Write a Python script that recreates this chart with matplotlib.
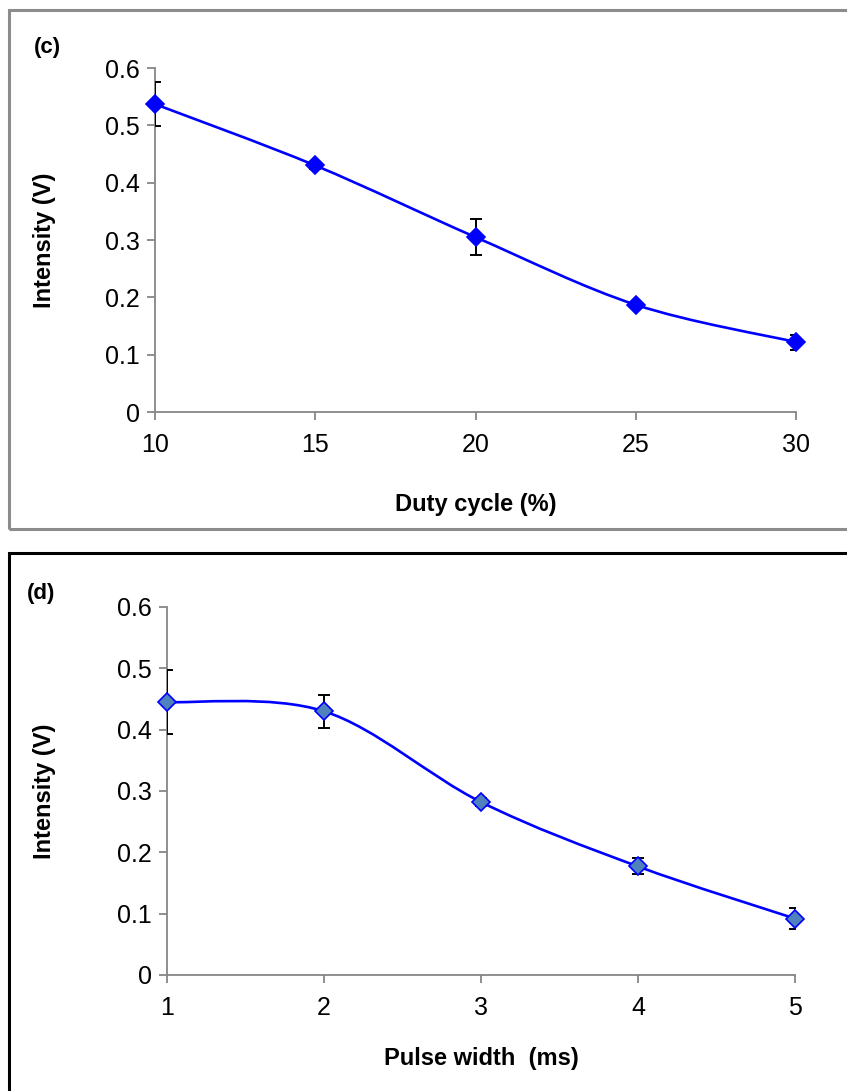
import matplotlib
matplotlib.use("Agg")
import matplotlib.pyplot as plt
from matplotlib.path import Path
from matplotlib.patches import PathPatch, Rectangle
from matplotlib.transforms import blended_transform_factory
import numpy as np

plt.rcParams['font.family'] = ['Liberation Sans', 'DejaVu Sans']

# panel (c)
duty = [10, 15, 20, 25, 30]
duty_int = [0.537, 0.430, 0.305, 0.187, 0.122]
duty_err = [0.038, 0.006, 0.031, 0.004, 0.013]

# panel (d)
pulse = [1, 2, 3, 4, 5]
pulse_int = [0.445, 0.430, 0.282, 0.177, 0.092]
pulse_err = [0.052, 0.027, 0.007, 0.013, 0.017]

W, H = 847, 1091
fig = plt.figure(figsize=(W / 100, H / 100), dpi=100)


def smooth_path(x, y):
    # Excel style smoothed line: cubic bezier through the points
    p = np.column_stack([x, y]).astype(float)
    n = len(p)
    verts = [p[0]]
    codes = [Path.MOVETO]
    for i in range(n - 1):
        prev = p[max(i - 1, 0)]
        nxt = p[min(i + 2, n - 1)]
        c1 = p[i] + (p[i + 1] - prev) / 6
        c2 = p[i + 1] - (nxt - p[i]) / 6
        verts += [c1, c2, p[i + 1]]
        codes += [Path.CURVE4] * 3
    return Path(verts, codes)


def panel(rect, x, y, err, xticks, xlabel, xlab_y, tag, tag_xy, mface):
    ax = fig.add_axes(rect)
    ax.add_patch(PathPatch(smooth_path(x, y), facecolor='none',
                           edgecolor='#0000ff', lw=1.9, zorder=2))
    ax.errorbar(x, y, yerr=err, fmt='none', ecolor='black', elinewidth=1.4,
                capsize=4.5, capthick=1.4, zorder=3)
    ax.plot(x, y, ls='none', marker='D', ms=9.5, mfc=mface, mec='#0000ff',
            mew=1.2, zorder=4, clip_on=False)
    ax.set_xlim(xticks[0], xticks[-1])
    ax.set_ylim(0, 0.6)
    ax.set_xticks(xticks)
    ax.set_yticks([0, 0.1, 0.2, 0.3, 0.4, 0.5, 0.6])
    ax.set_yticklabels(['0', '0.1', '0.2', '0.3', '0.4', '0.5', '0.6'])
    for s in ['top', 'right']:
        ax.spines[s].set_visible(False)
    for s in ['left', 'bottom']:
        ax.spines[s].set_color('#868686')
        ax.spines[s].set_linewidth(1.3)
    ax.tick_params(axis='both', colors='#868686', labelcolor='black',
                   labelsize=18, length=6, width=1.3)
    ax.tick_params(axis='x', pad=9)
    ax.tick_params(axis='y', pad=5)
    ax.set_xlabel(xlabel, fontsize=17, fontweight='bold')
    ax.set_ylabel('Intensity (V)', fontsize=17, fontweight='bold')
    ax.xaxis.set_label_coords(0.5, 1 - xlab_y / H,
                              transform=blended_transform_factory(ax.transAxes, fig.transFigure))
    ax.xaxis.label.set_va('center')
    ax.yaxis.set_label_coords(45 / W, 0.5,
                              transform=blended_transform_factory(fig.transFigure, ax.transAxes))
    ax.yaxis.label.set_va('center')
    fig.text(tag_xy[0] / W, 1 - tag_xy[1] / H, tag, fontsize=16,
             fontweight='bold', ha='left', va='center')
    return ax


panel([155 / W, 1 - 412 / H, (796 - 155) / W, (412 - 68) / H],
      duty, duty_int, duty_err, [10, 15, 20, 25, 30], 'Duty cycle (%)', 505,
      '(c)', (34, 47), '#0000ff')
panel([167 / W, 1 - 975 / H, (795 - 167) / W, (975 - 607) / H],
      pulse, pulse_int, pulse_err, [1, 2, 3, 4, 5], 'Pulse width  (ms)', 1058,
      '(d)', (27, 594), '#4f81bd')

# panel frames
fig.patches.append(Rectangle((9 / W, 1 - 529 / H), 900 / W, (529 - 10) / H,
                             transform=fig.transFigure, fill=False,
                             edgecolor='#8c8c8c', lw=2.2))
fig.patches.append(Rectangle((9 / W, -0.05), 900 / W, 0.05 + 1 - 553 / H,
                             transform=fig.transFigure, fill=False,
                             edgecolor='black', lw=2.2))

fig.savefig('out.png', dpi=100)
